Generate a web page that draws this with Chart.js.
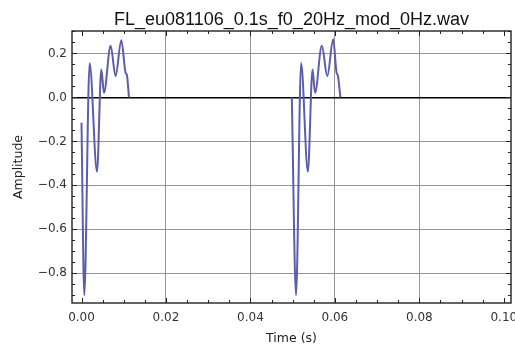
<!DOCTYPE html>
<html>
<head>
<meta charset="utf-8">
<script src="https://cdn.jsdelivr.net/npm/chart.js@4.4.0/dist/chart.umd.min.js"></script>
<style>
  html, body { margin: 0; padding: 0; background: #fff; }
</style>
</head>
<body>
<canvas id="waveChart" width="515" height="352"></canvas>
<script>
// waveform: two pulses, zero in between
const pulse1Time = [0.0000, 0.00066, 0.00192, 0.00367, 0.00469, 0.00532, 0.00689, 0.00807, 0.00942, 0.01044, 0.01077, 0.01124];
const pulse1Amp  = [-0.115, -0.900, 0.155, -0.338, 0.127, 0.021, 0.235, 0.097, 0.260, 0.112, 0.100, 0.000];
const pulse2Time = [0.0498, 0.0508, 0.0520, 0.0536, 0.0547, 0.0553, 0.0569, 0.0582, 0.0596, 0.0604, 0.0607, 0.0613];
const pulse2Amp  = [0.000, -0.900, 0.155, -0.338, 0.127, 0.021, 0.235, 0.097, 0.265, 0.112, 0.100, 0.000];
const timeTicks = [0, 0.02, 0.04, 0.06, 0.08, 0.10];
const ampTicks = [-0.8, -0.6, -0.4, -0.2, 0.0, 0.2];
const chartTitle = "FL_eu081106_0.1s_f0_20Hz_mod_0Hz.wav";

const waveColor = "rgb(92, 94, 172)";

function toPoints(times, amps) {
  return times.map((t, i) => ({ x: t, y: amps[i] }));
}

// frame with inward ticks on all sides, plus the title over the plot
const framePlugin = {
  id: "frame",
  afterDraw(chart) {
    const { ctx, chartArea: a, scales } = chart;
    const x = scales.x, y = scales.y;
    ctx.save();
    ctx.strokeStyle = "#222";
    ctx.lineWidth = 1.4;
    ctx.strokeRect(a.left, a.top, a.right - a.left, a.bottom - a.top);

    ctx.lineWidth = 1;
    ctx.beginPath();
    for (let i = 0; i <= 20; i++) {
      const v = i * 0.005;
      const px = Math.round(x.getPixelForValue(v)) + 0.5;
      if (px < a.left || px > a.right) continue;
      const len = i % 4 === 0 ? 5 : 3;
      ctx.moveTo(px, a.bottom); ctx.lineTo(px, a.bottom - len);
      ctx.moveTo(px, a.top); ctx.lineTo(px, a.top + len);
    }
    for (let i = -18; i <= 6; i++) {
      const v = i * 0.05;
      const py = Math.round(y.getPixelForValue(v)) + 0.5;
      if (py < a.top || py > a.bottom) continue;
      const len = i % 4 === 0 ? 5 : 3;
      ctx.moveTo(a.left, py); ctx.lineTo(a.left + len, py);
      ctx.moveTo(a.right, py); ctx.lineTo(a.right - len, py);
    }
    ctx.stroke();

    ctx.fillStyle = "#111";
    ctx.font = "18px 'Liberation Sans', Arial, sans-serif";
    ctx.textAlign = "center";
    ctx.textBaseline = "alphabetic";
    ctx.fillText(chartTitle, (a.left + a.right) / 2, 25);
    ctx.restore();
  }
};

new Chart(document.getElementById("waveChart"), {
  type: "line",
  data: {
    datasets: [
      { data: toPoints(pulse1Time, pulse1Amp), borderColor: waveColor },
      { data: toPoints(pulse2Time, pulse2Amp), borderColor: waveColor }
    ]
  },
  options: {
    responsive: false,
    animation: false,
    layout: { padding: { top: 31, right: 4, left: 0, bottom: 0 } },
    plugins: { legend: { display: false }, tooltip: { enabled: false } },
    elements: {
      point: { radius: 0 },
      line: { borderWidth: 2, cubicInterpolationMode: "monotone", fill: false }
    },
    scales: {
      x: {
        type: "linear",
        min: -0.00225,
        max: 0.1017,
        afterBuildTicks: (s) => { s.ticks = timeTicks.map((v) => ({ value: v })); },
        afterFit: (s) => { s.height = 49; s.paddingLeft = 0; s.paddingRight = 0; },
        border: { display: false },
        grid: {
          drawTicks: false,
          lineWidth: 1,
          color: (c) => (c.tick && (c.tick.value === 0 || c.tick.value === 0.1) ? "rgba(0,0,0,0)" : "#959595")
        },
        ticks: {
          padding: 8,
          autoSkip: false,
          maxRotation: 0,
          color: "#333",
          font: { family: "'DejaVu Sans'", size: 12 },
          callback: (v) => Number(v).toFixed(2)
        },
        title: {
          display: true,
          text: "Time (s)",
          color: "#222",
          font: { family: "'DejaVu Sans'", size: 12.5 },
          padding: { top: 0, bottom: 5.5 }
        }
      },
      y: {
        min: -0.935,
        max: 0.302,
        afterBuildTicks: (s) => { s.ticks = ampTicks.map((v) => ({ value: v })); },
        afterFit: (s) => { s.width = 72; s.paddingTop = 0; s.paddingBottom = 0; },
        border: { display: false },
        grid: {
          drawTicks: false,
          color: (c) => (c.tick && Math.abs(c.tick.value) < 1e-9 ? "#000" : "#959595"),
          lineWidth: (c) => (c.tick && Math.abs(c.tick.value) < 1e-9 ? 1.5 : 1)
        },
        ticks: {
          padding: 5,
          color: "#333",
          font: { family: "'DejaVu Sans'", size: 12 },
          callback: (v) => Number(v).toFixed(1).replace("-", "\u2212")
        },
        title: {
          display: true,
          text: "Amplitude",
          color: "#222",
          font: { family: "'DejaVu Sans'", size: 12.5 },
          padding: { top: 11.5, bottom: 0 }
        }
      }
    }
  },
  plugins: [framePlugin]
});
</script>
</body>
</html>
